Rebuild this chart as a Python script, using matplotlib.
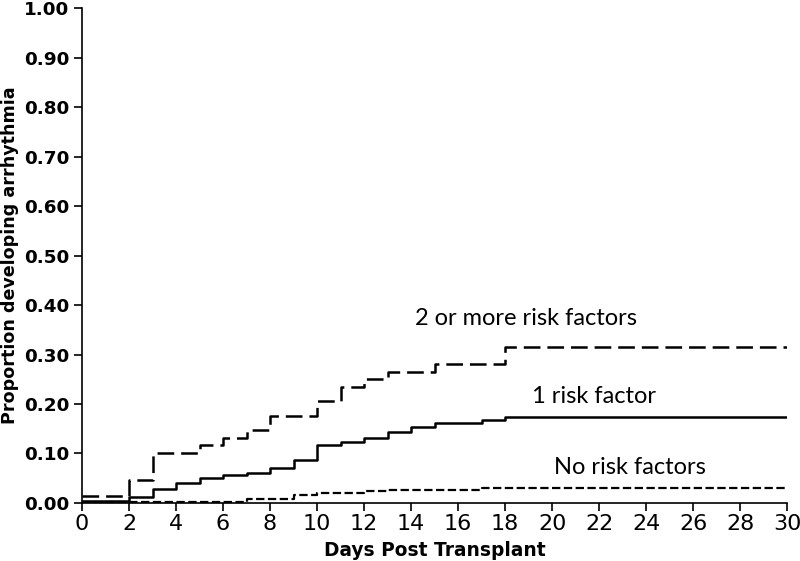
import matplotlib
matplotlib.use("Agg")
import matplotlib.pyplot as plt

# step curves (day at which each level starts, cumulative proportion)
days_two = [0, 2, 3, 5, 6, 7, 8, 10, 11, 12, 13, 15, 18, 30]
prop_two = [0.015, 0.046, 0.102, 0.117, 0.132, 0.147, 0.176, 0.206, 0.235, 0.250, 0.265, 0.280, 0.316, 0.316]

days_one = [0, 2, 3, 4, 5, 6, 7, 8, 9, 10, 11, 12, 13, 14, 15, 17, 18, 30]
prop_one = [0.005, 0.013, 0.028, 0.040, 0.051, 0.057, 0.061, 0.071, 0.087, 0.117, 0.124,
            0.131, 0.144, 0.154, 0.161, 0.168, 0.173, 0.173]

days_none = [0, 7, 9, 10, 12, 13, 17, 30]
prop_none = [0.003, 0.008, 0.016, 0.020, 0.024, 0.026, 0.031, 0.031]

x_ticks = list(range(0, 31, 2))
y_ticks = [i / 10 for i in range(11)]

plt.rcParams['lines.scale_dashes'] = False

fig = plt.figure(figsize=(8, 5.61), dpi=100)
ax = fig.add_axes([0.1025, 0.1034, 0.8815, 0.8823])

ax.step(days_two, prop_two, where='post', color='black', lw=1.8, dashes=(12, 5))
ax.step(days_one, prop_one, where='post', color='black', lw=1.8)
ax.step(days_none, prop_none, where='post', color='black', lw=1.6, dashes=(6, 2.5))

ax.set_xlim(0, 30)
ax.set_ylim(0, 1.0)
ax.set_xticks(x_ticks)
ax.set_yticks(y_ticks)
ax.set_xticklabels([str(t) for t in x_ticks], family=['Liberation Sans Narrow', 'DejaVu Sans'], fontsize=16)
ax.set_yticklabels(['%.2f' % t for t in y_ticks], family='DejaVu Sans', fontweight='bold', fontsize=13.2)

for s in ['top', 'right']:
    ax.spines[s].set_visible(False)
for s in ['left', 'bottom']:
    ax.spines[s].set_linewidth(1.2)
ax.tick_params(direction='out', length=6, width=1.2, colors='black', pad=3)
ax.tick_params(axis='x', pad=2)

ax.set_xlabel('Days Post Transplant', fontsize=13.4, fontweight='bold', family='DejaVu Sans', labelpad=5)
ax.set_ylabel('Proportion developing arrhythmia', fontsize=12.6, fontweight='bold', family='DejaVu Sans', labelpad=4)

ax.text(18.9, 0.372, '2 or more risk factors', fontsize=17, family='Lato', ha='center', va='center')
ax.text(21.8, 0.216, '1 risk factor', fontsize=17, family='Lato', ha='center', va='center')
ax.text(23.3, 0.072, 'No risk factors', fontsize=17, family='Lato', ha='center', va='center')

fig.savefig('out.png', dpi=100)
